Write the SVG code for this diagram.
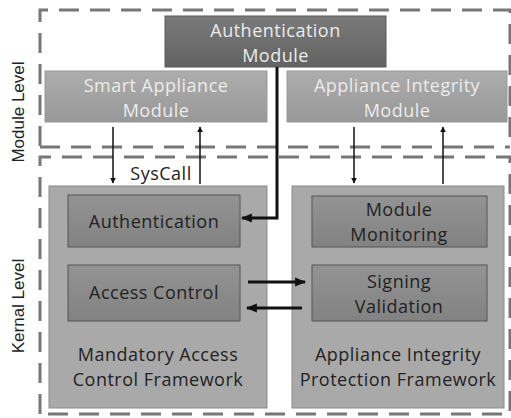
<svg xmlns="http://www.w3.org/2000/svg" width="511" height="418" viewBox="0 0 511 418">
<defs>
<style>
text{font-family:"Open Sans","Noto Sans",sans-serif;text-anchor:middle}
.t{font-size:18px;letter-spacing:0.5px}
.lt{fill:#ececec}
.dk{fill:#222}
.lvl{font-family:"Liberation Sans",Arial,sans-serif;font-size:17px;fill:#222}
.dash{fill:none;stroke:#777;stroke-width:3;stroke-dasharray:20 11}
.ln{stroke:#111;stroke-width:1.5;fill:none}
.th{stroke:#111;stroke-width:3;fill:none}
</style>
<linearGradient id="gA" x1="0" y1="0" x2="0" y2="1"><stop offset="0" stop-color="#7a7a7a"/><stop offset="1" stop-color="#626262"/></linearGradient>
<linearGradient id="gB" x1="0" y1="0" x2="0" y2="1"><stop offset="0" stop-color="#adadad"/><stop offset="1" stop-color="#989898"/></linearGradient>
<linearGradient id="gI" x1="0" y1="0" x2="0" y2="1"><stop offset="0" stop-color="#939393"/><stop offset="1" stop-color="#828282"/></linearGradient>
<marker id="ah" viewBox="0 0 10 10" refX="9" refY="5" markerWidth="6" markerHeight="6" orient="auto-start-reverse" markerUnits="userSpaceOnUse"><path d="M0,0L10,5L0,10z" fill="#111"/></marker>
<marker id="ahb" viewBox="0 0 10 10" refX="9" refY="5" markerWidth="11" markerHeight="11" orient="auto-start-reverse" markerUnits="userSpaceOnUse"><path d="M0,1L10,5L0,9z" fill="#111"/></marker>
</defs>
<g id="levels">
<path class="dash" d="M40,146 V10 H510 V146"/>
<path class="dash" d="M40,147 H510"/>
<path class="dash" d="M40,414 V157 H510 V414 H40"/>
<text class="lvl" x="18" y="112" transform="rotate(-90 18 112)" dy="6">Module Level</text>
<text class="lvl" x="18" y="306" transform="rotate(-90 18 306)" dy="6">Kernal Level</text>
</g>
<g id="mac">
<rect x="49" y="186" width="218" height="222" fill="#a9a9a9" stroke="#8a8a8a"/>
<text class="t dk" x="158" y="361">Mandatory Access</text>
<text class="t dk" x="158" y="386">Control Framework</text>
</g>
<g id="aip">
<rect x="292" y="186" width="212" height="222" fill="#a9a9a9" stroke="#8a8a8a"/>
<text class="t dk" x="398" y="361">Appliance Integrity</text>
<text class="t dk" x="398" y="386">Protection Framework</text>
</g>
<g id="auth-module">
<rect x="165" y="16" width="221" height="51" fill="url(#gA)" stroke="#5a5a5a"/>
<text class="t lt" x="275.5" y="37">Authentication</text>
<text class="t lt" x="275.5" y="62">Module</text>
</g>
<g id="smart-module">
<rect x="45" y="71" width="222" height="51" fill="url(#gB)" stroke="#999"/>
<text class="t lt" x="156" y="92">Smart Appliance</text>
<text class="t lt" x="156" y="117">Module</text>
</g>
<g id="integrity-module">
<rect x="287" y="71" width="220" height="51" fill="url(#gB)" stroke="#999"/>
<text class="t lt" x="397" y="92">Appliance Integrity</text>
<text class="t lt" x="397" y="117">Module</text>
</g>
<g id="authentication">
<rect x="68" y="195" width="172" height="52" fill="url(#gI)" stroke="#555"/>
<text class="t dk" x="154" y="228">Authentication</text>
</g>
<g id="monitoring">
<rect x="312" y="196" width="175" height="51" fill="url(#gI)" stroke="#555"/>
<text class="t dk" x="399" y="216">Module</text>
<text class="t dk" x="399" y="241">Monitoring</text>
</g>
<g id="access">
<rect x="68" y="265" width="172" height="56" fill="url(#gI)" stroke="#555"/>
<text class="t dk" x="154" y="299">Access Control</text>
</g>
<g id="signing">
<rect x="312" y="265" width="175" height="56" fill="url(#gI)" stroke="#555"/>
<text class="t dk" x="399" y="288">Signing</text>
<text class="t dk" x="399" y="313">Validation</text>
</g>
<g id="connectors">
<line class="ln" x1="113" y1="127" x2="113" y2="183" marker-end="url(#ah)"/>
<line class="ln" x1="200" y1="184" x2="200" y2="127" marker-end="url(#ah)"/>
<line class="ln" x1="354" y1="127" x2="354" y2="183" marker-end="url(#ah)"/>
<line class="ln" x1="443" y1="184" x2="443" y2="127" marker-end="url(#ah)"/>
<path class="th" d="M277,67 V218 H242" marker-end="url(#ahb)"/>
<line class="th" x1="248" y1="282" x2="305" y2="282" marker-end="url(#ahb)"/>
<line class="th" x1="302" y1="308" x2="247" y2="308" marker-end="url(#ahb)"/>
<text x="161" y="180" font-size="18" fill="#222" letter-spacing="0.5">SysCall</text>
</g>
</svg>
